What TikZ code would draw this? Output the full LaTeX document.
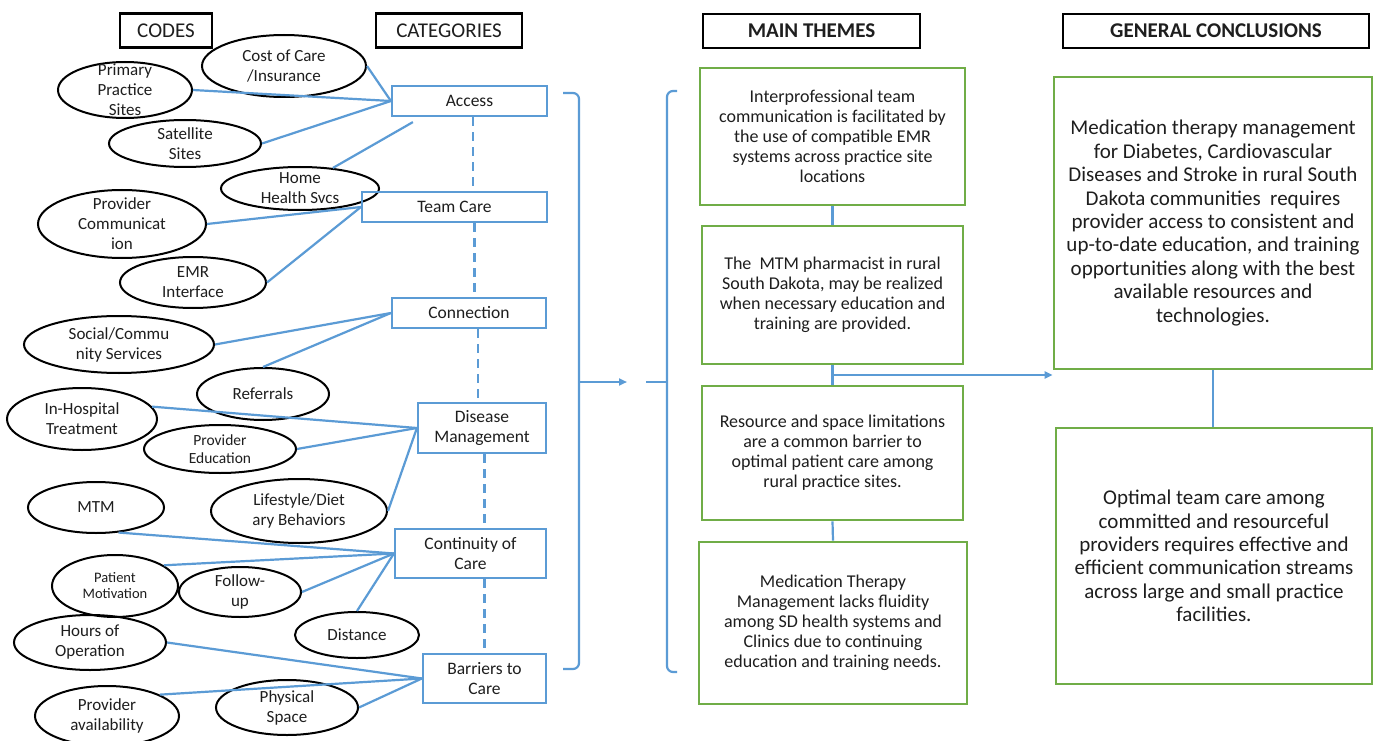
\documentclass[tikz,border=0pt]{standalone}
\usepackage{fontspec}
\setmainfont{Carlito}
\usetikzlibrary{calc,arrows.meta,shapes.geometric}
\definecolor{cblue}{RGB}{91,155,213}
\definecolor{cgreen}{RGB}{112,173,71}
\definecolor{ctext}{RGB}{30,30,30}
\tikzset{
 every node/.style={text=ctext},
 hdr/.style={draw=black, line width=2.2pt, minimum height=34pt, inner sep=0pt, font=\fontsize{21}{24}\selectfont},
 cat/.style={draw=cblue, line width=2.2pt, inner sep=0pt, align=center, font=\fontsize{17.5}{20}\selectfont},
 ell/.style={draw=black, ellipse, line width=2pt, inner sep=0pt},
 etxt/.style={align=center, inner sep=0pt, font=\fontsize{17}{20}\selectfont},
 theme/.style={draw=cgreen, line width=2.7pt, inner sep=0pt, align=center, font=\fontsize{18}{20}\selectfont},
 concl/.style={draw=cgreen, line width=2.7pt, inner sep=0pt, align=center, font=\fontsize{21}{23.4}\selectfont},
 link/.style={draw=cblue, line width=2.2pt},
 dashlink/.style={draw=cblue, line width=2.2pt, dash pattern=on 9pt off 6pt},
 arr/.style={link, -{Triangle[length=8pt,width=7pt]}},
}
\begin{document}
\begin{tikzpicture}[x=1pt,y=-1pt]
\useasboundingbox (0,0) rectangle (1374,741);
\fill[white] (0,0) rectangle (1374,741);

% headers
\node[hdr, minimum width=92pt] (hcodes) at (166,30.5) {CODES};
\node[hdr, minimum width=146pt] (hcat) at (449,30.5) {CATEGORIES};
\node[hdr, minimum width=217pt] (hthemes) at (811.5,31) {\textbf{MAIN THEMES}};
\node[hdr, minimum width=306pt] (hconcl) at (1216,31) {\textbf{GENERAL CONCLUSIONS}};

% ellipses (codes)
\node[ell, minimum width=164pt, minimum height=62pt] (cost) at (284,66) {};
\node[ell, minimum width=134pt, minimum height=56pt] (prim) at (125,90) {};
\node[ell, minimum width=152pt, minimum height=47pt] (sat) at (185,143.5) {};
\node[ell, minimum width=158pt, minimum height=43pt] (home) at (300,188.5) {};
\node[ell, minimum width=168pt, minimum height=68pt] (pcomm) at (122,224) {};
\node[ell, minimum width=146pt, minimum height=51pt] (emr) at (193,282.5) {};
\node[ell, minimum width=190pt, minimum height=57pt] (social) at (119,344.5) {};
\node[ell, minimum width=132pt, minimum height=52pt] (refer) at (263,394) {};
\node[ell, minimum width=150pt, minimum height=62pt] (inhosp) at (82,419) {};
\node[ell, minimum width=152pt, minimum height=48pt] (pedu) at (220,449) {};
\node[ell, minimum width=136pt, minimum height=51pt] (mtm) at (96,507.5) {};
\node[ell, minimum width=176pt, minimum height=64pt] (life) at (299,511) {};
\node[ell, minimum width=126pt, minimum height=62pt] (pmot) at (115,586) {};
\node[ell, minimum width=122pt, minimum height=50pt] (follow) at (240,592) {};
\node[ell, minimum width=124pt, minimum height=46pt] (dist) at (357,635) {};
\node[ell, minimum width=152pt, minimum height=55pt] (hours) at (90,642.5) {};
\node[ell, minimum width=144pt, minimum height=60pt] (pavail) at (107,716) {};
\node[ell, minimum width=142pt, minimum height=55pt] (phys) at (287,707.5) {};

\node[etxt] (costt) at (cost) {Cost of Care\\/Insurance};
\node[etxt] (primt) at (prim) {Primary\\Practice\\Sites};
\node[etxt] (satt) at (sat) {Satellite\\Sites};
\node[etxt] (homet) at (home) {Home\\Health Svcs};
\node[etxt] (pcommt) at (pcomm) {Provider\\Communicat\\ion};
\node[etxt] (emrt) at (emr) {EMR\\Interface};
\node[etxt] (socialt) at (social) {Social/Commu\\nity Services};
\node[etxt] (refert) at (refer) {Referrals};
\node[etxt] (inhospt) at (inhosp) {In-Hospital\\Treatment};
\node[etxt, font=\fontsize{15.5}{17.7}\selectfont] (pedut) at (pedu) {Provider\\Education};
\node[etxt] (mtmt) at (mtm) {MTM};
\node[etxt] (lifet) at (life) {Lifestyle/Diet\\ary Behaviors};
\node[etxt, font=\fontsize{14.5}{16}\selectfont] (pmott) at (pmot) {Patient\\Motivation};
\node[etxt] (followt) at (follow) {Follow-\\up};
\node[etxt] (distt) at (dist) {Distance};
\node[etxt] (hourst) at (hours) {Hours of\\Operation};
\node[etxt] (pavailt) at (pavail) {Provider\\availability};
\node[etxt] (physt) at (phys) {Physical\\Space};

% categories
\node[cat, minimum width=155pt, minimum height=30pt] (access) at (469.5,101) {Access};
\node[cat, minimum width=185pt, minimum height=30pt] (team) at (454.5,207) {Team Care};
\node[cat, minimum width=154pt, minimum height=30pt] (conn) at (469,313) {Connection};
\node[cat, minimum width=128pt, minimum height=50pt] (dis) at (482,428) {Disease\\Management};
\node[cat, minimum width=151pt, minimum height=49pt] (cont) at (470.5,553.5) {Continuity of\\Care};
\node[cat, minimum width=123pt, minimum height=49pt] (barr) at (484.5,678.5) {Barriers to\\Care};

% code -> category links
\draw[link] (cost.east) -- (access.west);
\draw[link] (prim.east) -- (access.west);
\draw[link] (sat.east) -- (access.west);
\draw[link] (home.32) -- ($(access.south west)+(22,5)$);
\draw[link] (pcomm.east) -- (team.west);
\draw[link] (emr.east) -- (team.west);
\draw[link] (social.east) -- (conn.west);
\draw[link] (refer.north) -- (conn.west);
\draw[link] (inhosp.10) -- (dis.west);
\draw[link] (pedu.east) -- (dis.west);
\draw[link] (life.east) -- (dis.west);
\draw[link] (mtm.-48) -- (cont.west);
\draw[link] (pmot.23) -- (cont.west);
\draw[link] (follow.east) -- (cont.west);
\draw[link] (dist.north) -- (cont.west);
\draw[link] (hours.east) -- (barr.west);
\draw[link] (pavail.22) -- (barr.west);
\draw[link] (phys.east) -- (barr.west);

% dashed category chain
\draw[dashlink] ([xshift=3.5pt]access.south) -- ([xshift=3.5pt]access.south |- team.north);
\draw[dashlink] ([xshift=5.5pt]conn.north |- team.south) -- ([xshift=5.5pt]conn.north);
\draw[dashlink] ([xshift=-4pt]dis.north |- conn.south) -- ([xshift=-4pt]dis.north);
\draw[dashlink] (barr.north |- dis.south) -- (barr.north |- cont.north);
\draw[dashlink] (barr.north |- cont.south) -- (barr.north);

% braces
\draw[link, rounded corners=6pt] (563,93) -- (579,93) -- (579,669) -- (563,669);
\coordinate (lbm) at (579,382);
\coordinate (lbend) at (627,382);
\draw[arr] (lbm) -- (lbend);
\draw[link, rounded corners=6pt] (677,91) -- (667,91) -- (667,672) -- (677,672);
\coordinate (rbm) at (667,382);
\coordinate (rbtip) at (646,382);
\draw[link] (rbtip) -- (rbm);

% themes
\node[theme, minimum width=265pt, minimum height=137pt] (th1) at (832.5,136.5)
 {Interprofessional team\\communication is facilitated by\\the use of compatible EMR\\systems across practice site\\locations};
\node[theme, minimum width=261pt, minimum height=138pt] (th2) at (832.5,295)
 {The\ \ MTM pharmacist in rural\\South Dakota, may be realized\\when necessary education and\\training are provided.};
\node[theme, minimum width=261pt, minimum height=134pt] (th3) at (832.5,453)
 {Resource and space limitations\\are a common barrier to\\optimal patient care among\\rural practice sites.};
\node[theme, minimum width=268pt, minimum height=162pt] (th4) at (833,623)
 {Medication Therapy\\Management lacks fluidity\\among SD health systems and\\Clinics due to continuing\\education and training needs.};

% conclusions
\node[concl, minimum width=318pt, minimum height=292pt] (c1) at (1213,223)
 {Medication therapy management\\for Diabetes, Cardiovascular\\Diseases and Stroke in rural South\\Dakota communities\ \ requires\\provider access to consistent and\\up-to-date education, and training\\opportunities along with the best\\available resources and\\technologies.};
\node[concl, minimum width=316pt, minimum height=256pt] (c2) at (1214,556)
 {Optimal team care among\\committed and resourceful\\providers requires effective and\\efficient communication streams\\across large and small practice\\facilities.};

% theme links
\draw[link] (th1.south) -- (th2.north);
\draw[link] (th2.south) -- (th3.north);
\draw[link] (th3.south) -- (th4.north);
\coordinate (br) at ($(th2.south)!0.5!(th3.north)$);
\draw[arr] (br) -- (br -| c1.west);
\draw[link] (c1.south) -- (c1.south |- c2.north);
\end{tikzpicture}
\end{document}
